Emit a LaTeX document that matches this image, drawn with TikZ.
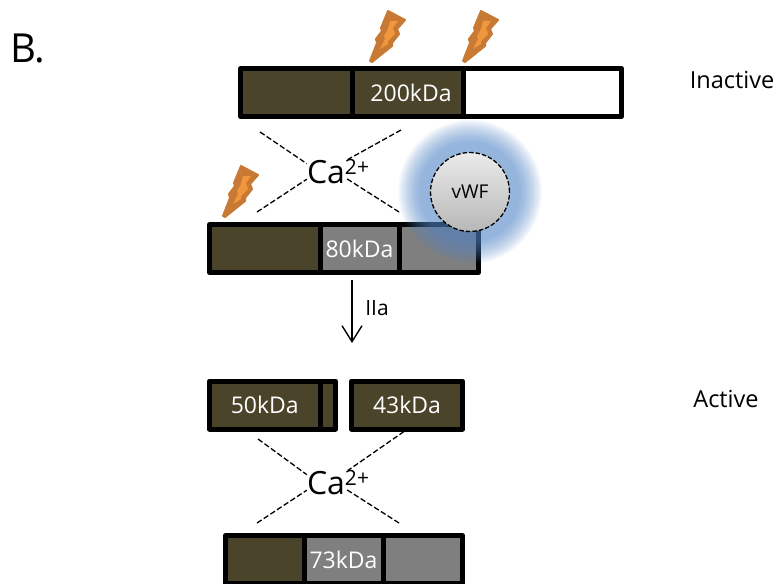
\documentclass[tikz,border=0pt]{standalone}
\usepackage{fontspec}
\setmainfont{Open Sans}
\usetikzlibrary{arrows.meta}
\definecolor{banddark}{HTML}{4A442A}
\definecolor{bandgrey}{HTML}{7F7F7F}
\definecolor{boltline}{HTML}{C87A35}
\definecolor{boltfill}{HTML}{F0963C}
\definecolor{glowblue}{HTML}{5B8FD0}
\tikzset{
	seg/.style={draw=black, line width=5pt, line join=round, minimum height=48pt, inner sep=0pt, text=white, font=\fontsize{23}{24}\selectfont},
	segdark/.style={seg, fill=banddark},
	seggrey/.style={seg, fill=bandgrey},
	segwhite/.style={seg, fill=white},
	link/.style={draw, line width=1.3pt, dash pattern=on 5.5pt off 2.5pt},
	calcium/.style={inner sep=0pt, font=\fontsize{32}{34}\selectfont},
	side/.style={font=\fontsize{23.5}{25}\selectfont},
	bolt/.pic={
		\filldraw[draw=boltline, fill=boltline, line width=2pt, line join=round] (0,0) -- (7,-18) -- (6,-22) -- (12,-30) -- (11,-33) -- (18,-50) -- (35,-41) -- (27,-32) -- (29,-27) -- (22,-18) -- (22,-15) -- (2,1) -- cycle;
		\fill[boltfill] (20,-40) -- (28,-40) -- (23,-33) -- (25,-27) -- (18,-20) -- (18,-17) -- (10,-12) -- (15,-22) -- (14,-25) -- (18,-32) -- cycle;
	}
}
\newcommand{\caion}{Ca\raisebox{9pt}{\fontsize{21}{21}\selectfont 2+}}
\newcommand{\kda}[1]{\raisebox{-2pt}{#1kDa}}
\begin{document}
\begin{tikzpicture}[x=1pt, y=-1pt]
	\useasboundingbox (0,0) rectangle (778,583);
	\fill[white] (0,0) rectangle (778,583);

	\node[font=\fontsize{40}{42}\selectfont] (panel) at (28,49) {B.};
	\node[side] (inactive) at (732,80) {Inactive};
	\node[side] (active) at (726,399) {Active};

	\node[segdark, minimum width=111.5pt] (heavya) at (296.25,92.5) {};
	\node[segdark, minimum width=111pt] (heavyb) at (407.5,92.5) {\hspace*{7pt}\kda{200}};
	\node[segwhite, minimum width=158.5pt] (heavyc) at (542.25,92.5) {};

	\node[segdark, minimum width=110.5pt] (lighta) at (264.75,248.5) {};
	\node[seggrey, minimum width=79pt] (lightb) at (359.5,248.5) {\kda{80}};
	\node[seggrey, minimum width=79.5pt] (lightc) at (438.75,248.5) {};

	\pic at (370,61) {bolt};
	\pic at (463,61) {bolt};
	\pic at (223,216) {bolt};

	\foreach \rad in {50,51,...,72}
		\fill[glowblue, opacity=0.04] (470,192) circle (\rad pt);
	\node[circle, draw=black, line width=1.3pt, dash pattern=on 4.5pt off 2pt, top color=white!92!black, bottom color=white!72!black, minimum size=79pt, inner sep=0pt, font=\fontsize{19}{20}\selectfont] (vwf) at (470,192) {vWF};

	\node[calcium] (catop) at (338,172) {\caion};
	\coordinate (catopa) at (260,132);
	\coordinate (catopb) at (401,130);
	\coordinate (catopc) at (257,212);
	\coordinate (catopd) at (399,212);
	\draw[link] (catopa) -- (catop.165);
	\draw[link] (catopb) -- (catop.52);
	\draw[link] (catopc) -- (catop.193);
	\draw[link, shorten >=-12pt] (catopd) -- (catop.-35);

	\coordinate (arrowtop) at (352,280);
	\coordinate (arrowtip) at (352,343);
	\draw[line width=1.4pt, -{Straight Barb[length=16pt, width=20pt]}] (arrowtop) -- (arrowtip);
	\node[font=\fontsize{21}{22}\selectfont] (thrombin) at (377,308) {IIa};

	\node[segdark, minimum width=110.5pt] (fiftya) at (264.75,405) {\kda{50}};
	\node[segdark, minimum width=15.5pt] (fiftyb) at (327.75,405) {};
	\node[segdark, minimum width=111pt] (fortythree) at (407,405) {\kda{43}};

	\node[calcium] (cabot) at (338,483) {\caion};
	\coordinate (cabota) at (258,439);
	\coordinate (cabotc) at (257,523);
	\coordinate (cabotd) at (399,523);
	\draw[link] (cabota) -- (cabot.165);
	\draw[link] (fortythree.south) ++(-3,0) -- (cabot.52);
	\draw[link] (cabotc) -- (cabot.193);
	\draw[link, shorten >=-12pt] (cabotd) -- (cabot.-35);

	\node[segdark, minimum width=78.5pt] (lowa) at (264.75,559.5) {};
	\node[seggrey, minimum width=79pt] (lowb) at (343.5,559.5) {\kda{73}};
	\node[seggrey, minimum width=79.5pt] (lowc) at (422.75,559.5) {};
\end{tikzpicture}
\end{document}
